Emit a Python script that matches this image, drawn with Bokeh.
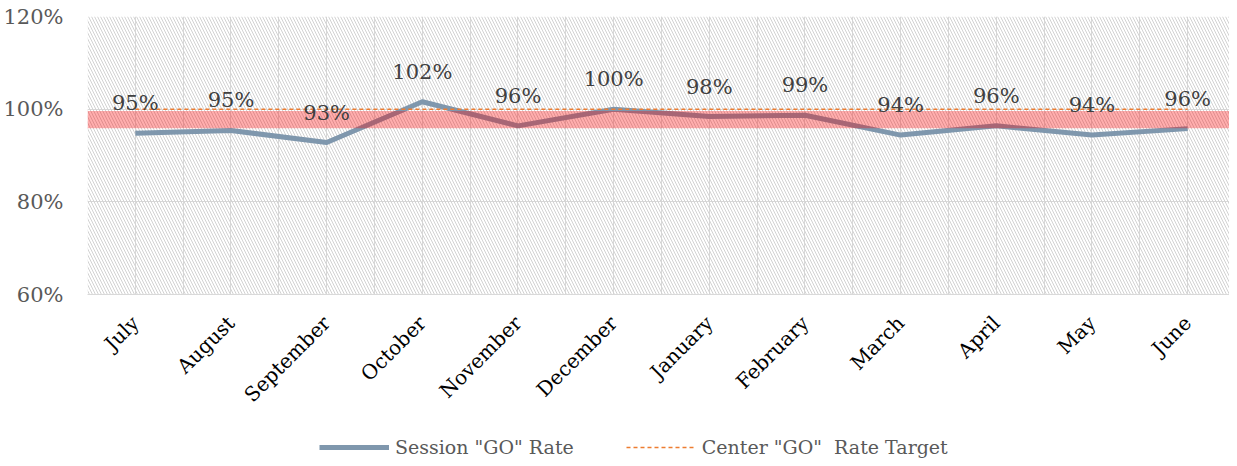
from bokeh.plotting import figure
from bokeh.layouts import column
from bokeh.models import FixedTicker, Legend, LegendItem, ColumnDataSource, Range1d, CustomJSTickFormatter
from bokeh.core.properties import value
from bokeh.embed import file_html
from bokeh.resources import INLINE

months = ["July", "August", "September", "October", "November", "December",
          "January", "February", "March", "April", "May", "June"]
go_rate = [94.8, 95.4, 92.8, 101.6, 96.4, 100.0, 98.4, 98.7, 94.4, 96.4, 94.4, 95.8]
target = [100] * 12
band_low = 95.9
band_high = 99.6
y_ticks = [60, 80, 100, 120]

xs = list(range(len(months)))
labels = [f"{round(v)}%" for v in go_rate]

FONT = "DejaVu Serif"
X_END = 11.4375

p = figure(width=1229, height=418, output_backend="svg", toolbar_location=None,
           x_range=Range1d(-0.5, X_END), y_range=Range1d(60, 120),
           min_border_left=83, min_border_right=0, min_border_top=16, min_border_bottom=122)
p.outline_line_color = None
p.background_fill_color = "white"
p.border_fill_color = "white"

# hatched background of the plot area
p.quad(left=[-0.5], right=[X_END], bottom=[60], top=[120], fill_alpha=0,
       line_color=None, hatch_pattern="left_diagonal_line", hatch_color="#d2d2d2",
       hatch_scale=6, hatch_weight=1)

src = ColumnDataSource(dict(x=xs, y=go_rate, t=labels, tgt=target))
r_go = p.line("x", "y", source=src, line_color="#7f97ad", line_width=5, line_join="round")
p.quad(left=[-0.5], right=[X_END], bottom=[band_low], top=[band_high],
       fill_color="red", fill_alpha=0.32, line_color=None)
r_tgt = p.line("x", "tgt", source=src, line_color="#ed7d31", line_width=1.5, line_dash="4 3")

p.text("x", "y", text="t", source=src, text_font=value(FONT), text_font_size="21px",
       text_color="#404040", text_align="center", text_baseline="middle", y_offset=-30)

# axes
p.xaxis.ticker = FixedTicker(ticks=xs)
p.xaxis.major_label_overrides = {i: m for i, m in enumerate(months)}
p.xaxis.major_label_orientation = 0.785398
p.xaxis.major_tick_line_color = None
p.xaxis.major_tick_out = 0
p.xaxis.major_tick_in = 0
p.xaxis.minor_tick_line_color = None
p.xaxis.axis_line_color = "#d9d9d9"
p.xaxis.major_label_text_font = FONT
p.xaxis.major_label_text_font_size = "20px"
p.xaxis.major_label_text_color = "#000000"
p.xaxis.major_label_standoff = 25

p.yaxis.ticker = FixedTicker(ticks=y_ticks)
p.yaxis.formatter = CustomJSTickFormatter(code="return tick + '%';")
p.yaxis.major_tick_line_color = None
p.yaxis.major_tick_out = 0
p.yaxis.major_tick_in = 0
p.yaxis.minor_tick_line_color = None
p.yaxis.axis_line_color = None
p.yaxis.major_label_text_font = FONT
p.yaxis.major_label_text_font_size = "21px"
p.yaxis.major_label_text_color = "#595959"
p.yaxis.major_label_standoff = 24

p.xgrid.ticker = FixedTicker(ticks=[i / 2 - 0.5 for i in range(2 * len(months))])
p.xgrid.grid_line_color = "#d9d9d9"
p.ygrid.grid_line_color = "#d9d9d9"

# legend strip below the chart (its lines use the series, drawn outside its visible range)
q = figure(width=1229, height=40, output_backend="svg", toolbar_location=None,
           x_range=Range1d(0, 1), y_range=Range1d(0, 1),
           min_border_left=0, min_border_right=0, min_border_top=0, min_border_bottom=0)
q.axis.visible = False
q.grid.visible = False
q.outline_line_color = None
l_go = q.line(x=xs, y=go_rate, line_color="#7f97ad", line_width=5)
l_tgt = q.line(x=xs, y=target, line_color="#ed7d31", line_width=1.5, line_dash="4 3")
legend = Legend(items=[LegendItem(label='Session "GO" Rate', renderers=[l_go]),
                       LegendItem(label='Center "GO"  Rate Target', renderers=[l_tgt])],
                orientation="horizontal", location=(232, 0),
                label_text_font=FONT, label_text_font_size="19px", label_text_color="#595959",
                glyph_width=70, glyph_height=20, label_standoff=6, spacing=52,
                padding=0, margin=0, border_line_color=None, background_fill_alpha=0)
q.add_layout(legend, "center")

layout = column(p, q, spacing=0)
open("out.html", "w").write(file_html(layout, INLINE))
